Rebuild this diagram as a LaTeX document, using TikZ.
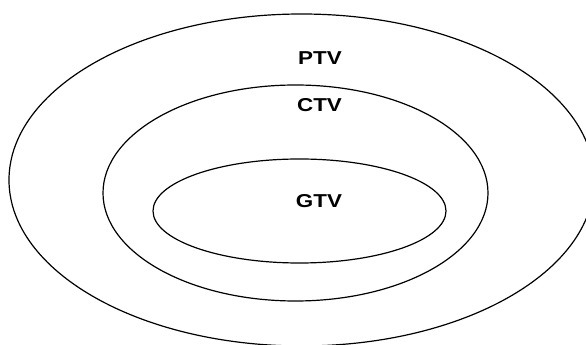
\documentclass[tikz,border=0pt]{standalone}
\usepackage{fontspec}
\setmainfont{Liberation Sans}
\usepackage{tikz}
\usetikzlibrary{positioning}

\begin{document}
\begin{tikzpicture}[x=0.75pt, y=-0.75pt,
    vol/.style={font=\fontsize{14}{16}\selectfont\bfseries, xscale=1.2}]
    %% Frame
    \useasboundingbox (0,0) rectangle (586,345);
    \clip (0,0) rectangle (586,345);
    %% Volumes
    \draw[line width=0.9pt] (301.6,180) ellipse [x radius=292.6, y radius=166];
    \draw[line width=0.9pt] (295.5,193) ellipse [x radius=192.5, y radius=108];
    \draw[line width=0.9pt] (299.5,211) ellipse [x radius=146.5, y radius=52];
    %% Labels
    \node[vol] (ptv) at (320,58.5) {PTV};
    \node[vol] (ctv) at (319.5,105.5) {CTV};
    \node[vol] (gtv) at (319,201.5) {GTV};
\end{tikzpicture}
\end{document}
